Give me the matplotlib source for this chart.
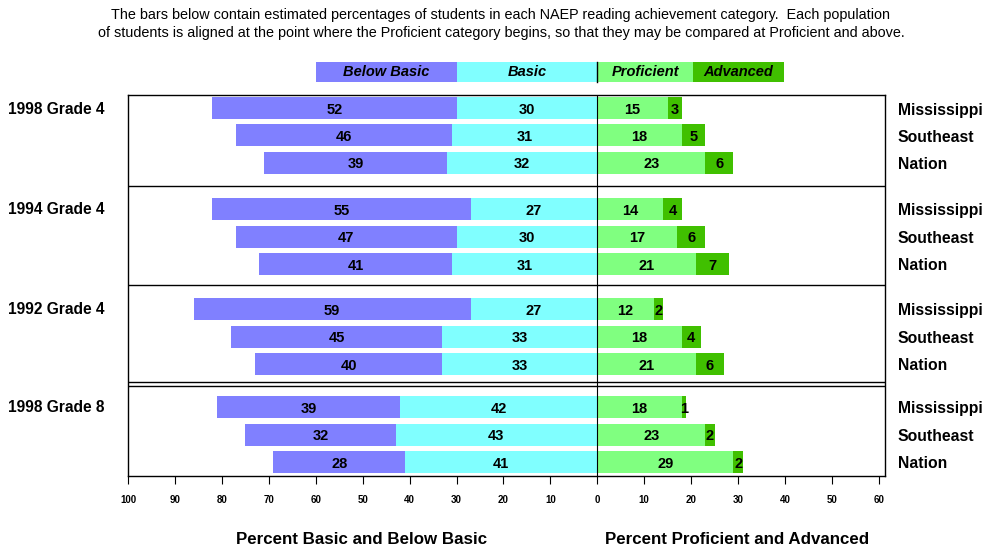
import numpy as np
import matplotlib
matplotlib.use("Agg")
import matplotlib.pyplot as plt

plt.rcParams['font.family'] = ['Liberation Sans', 'DejaVu Sans']

# data
groups = ['1998 Grade 4', '1994 Grade 4', '1992 Grade 4', '1998 Grade 8']
places = ['Mississippi', 'Southeast', 'Nation']
below_basic = [[52, 46, 39], [55, 47, 41], [59, 45, 40], [39, 32, 28]]
basic = [[30, 31, 32], [27, 30, 31], [27, 33, 33], [42, 43, 41]]
proficient = [[15, 18, 23], [14, 17, 21], [12, 18, 21], [18, 23, 29]]
advanced = [[3, 5, 6], [4, 6, 7], [2, 4, 6], [1, 2, 2]]
categories = ['Below Basic', 'Basic', 'Proficient', 'Advanced']
colors = ['#8080FF', '#80FFFF', '#80FF80', '#40C000']

# layout (y in pixel-like units, axis inverted)
centers = [[108, 135, 162.5], [209, 236.5, 264], [309, 336.5, 364], [407, 434.5, 461.5]]
bar_h = 22
W, H = 984, 548
top, bot, left, right = 95, 476, 128, 885

fig = plt.figure(figsize=(W / 100, H / 100), dpi=100)
ax = fig.add_axes([left / W, 1 - bot / H, (right - left) / W, (bot - top) / H])
ax.set_xlim(-100, 61.3)
ax.set_ylim(bot, top)

for g in range(4):
    for i in range(3):
        y = centers[g][i]
        bb, b, p, a = below_basic[g][i], basic[g][i], proficient[g][i], advanced[g][i]
        segs = [(-(bb + b), bb, colors[0]), (-b, b, colors[1]),
                (0, p, colors[2]), (p, a, colors[3])]
        for (start, w, c) in segs:
            ax.barh(y, w, left=start, height=bar_h, color=c, lw=0, zorder=2)
            ax.text(start + w / 2, y + 2, str(w), ha='center', va='center',
                    fontsize=10.5, fontweight='bold', zorder=3)
        fig.text((right + 13) / W, 1 - (y + 2) / H, places[i], ha='left', va='center',
                 fontsize=11.3, fontweight='bold')
    fig.text(8 / W, 1 - (centers[g][0] + 1) / H, groups[g], ha='left', va='center',
             fontsize=11.2, fontweight='bold')

# panel separators
for yy in [186, 285, 382, 386]:
    ax.axhline(yy, color='black', lw=1, zorder=4)
ax.axvline(0, color='black', lw=0.8, zorder=4)

# legend strip on top
leg = [(-60, 30), (-30, 30), (0, 20.4), (20.4, 19.4)]
for (start, w), c, lab in zip(leg, colors, categories):
    ax.barh(72, w, left=start, height=20, color=c, lw=0, clip_on=False)
    ax.text(start + w / 2, 72, lab, ha='center', va='center', fontsize=10.5,
            fontweight='bold', fontstyle='italic', clip_on=False)
ax.plot([0, 0], [62, 82], color='black', lw=1, clip_on=False)

ticks = np.arange(-100, 61, 10)
ax.set_xticks(ticks)
ax.set_xticklabels([str(abs(t)) for t in ticks], fontsize=7, fontweight='bold')
ax.tick_params(axis='x', length=6, width=0.8, pad=8)
ax.set_yticks([])
for s in ax.spines.values():
    s.set_linewidth(1)

fig.text(362 / W, 1 - 540 / H, 'Percent Basic and Below Basic', ha='center', va='center',
         fontsize=12.2, fontweight='bold')
fig.text(737 / W, 1 - 540 / H, 'Percent Proficient and Advanced', ha='center', va='center',
         fontsize=12.2, fontweight='bold')

fig.text(500 / W, 1 - 15 / H, 'The bars below contain estimated percentages of students in each NAEP reading achievement category.  Each population',
         ha='center', va='center', fontsize=10.4)
fig.text(501 / W, 1 - 33 / H, 'of students is aligned at the point where the Proficient category begins, so that they may be compared at Proficient and above.',
         ha='center', va='center', fontsize=10.4)

fig.savefig('out.png', dpi=100)
